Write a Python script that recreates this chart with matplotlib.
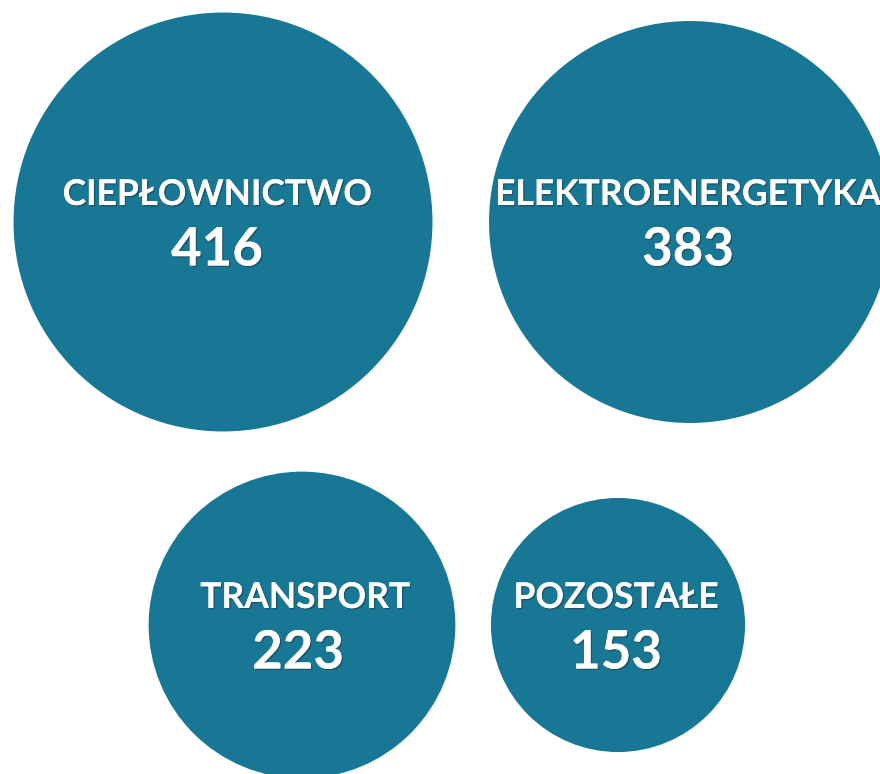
import math
import matplotlib.pyplot as plt
import matplotlib.patheffects as pe
from matplotlib.patches import Circle

# data
categories = ['CIEPŁOWNICTWO', 'ELEKTROENERGETYKA', 'TRANSPORT', 'POZOSTAŁE']
values = [416, 383, 223, 153]

# layout (pixels, figure is 880x774)
centers_x = [223, 690, 302, 618]
centers_y = [222, 222, 625, 625]
text_x = [217, 688, 305, 616]
num_x = [217, 688, 298, 616]
scale = 10.27  # radius = scale * sqrt(value)

color = '#177795'


def main():
    fig = plt.figure(figsize=(8.8, 7.74), dpi=100)
    ax = fig.add_axes([0, 0, 1, 1])
    ax.set_xlim(0, 880)
    ax.set_ylim(774, 0)
    ax.set_aspect('equal')
    ax.axis('off')

    shadow = [pe.withSimplePatchShadow(offset=(1, -1), shadow_rgbFace='#222222', alpha=0.4),
              pe.Normal()]

    for name, val, cx, cy, tx, nx in zip(categories, values, centers_x, centers_y, text_x, num_x):
        r = scale * math.sqrt(val)
        ax.add_patch(Circle((cx, cy), r, facecolor=color, edgecolor='none'))
        ax.text(tx, cy - 27, name, ha='center', va='center', color='white',
                fontsize=25.5, fontweight='bold', family='Lato', path_effects=shadow)
        ax.text(nx, cy + 28, str(val), ha='center', va='center', color='white',
                fontsize=38, fontweight='bold', family='Lato', path_effects=shadow)

    fig.savefig('out.png', dpi=100)


if __name__ == '__main__':
    main()
